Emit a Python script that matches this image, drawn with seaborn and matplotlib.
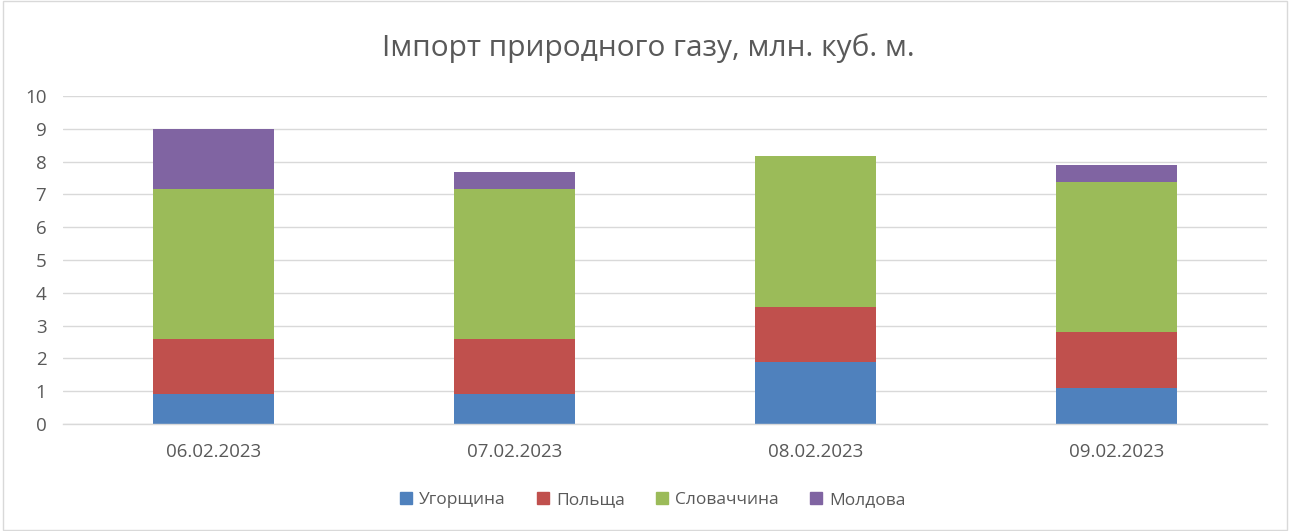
import matplotlib
matplotlib.use("Agg")
import matplotlib.pyplot as plt
import matplotlib.patches as mpatches
import seaborn as sns
import pandas as pd
import numpy as np

dates = ["06.02.2023", "07.02.2023", "08.02.2023", "09.02.2023"]
series_names = ["Угорщина", "Польща", "Словаччина", "Молдова"]
hungary = [0.92, 0.91, 1.89, 1.09]
poland = [1.66, 1.67, 1.67, 1.71]
slovakia = [4.58, 4.58, 4.61, 4.59]
moldova = [1.82, 0.51, 0.0, 0.50]
colors = ["#4F81BD", "#C0504D", "#9BBB59", "#8064A2"]
title = "Імпорт природного газу, млн. куб. м."
yticks = list(range(0, 11))

sns.set_theme(style="white")
plt.rcParams['font.family'] = ['Open Sans', 'DejaVu Sans']

fig = plt.figure(figsize=(12.9, 5.31), dpi=100)
ax = fig.add_axes([63/1290, 1-424/531, (1267-63)/1290, (424-96)/531])

vals = [hungary, poland, slovakia, moldova]
cum = np.cumsum(np.array(vals), axis=0)
# draw from top layer down so lower segments cover upper ones
for i in range(len(series_names) - 1, -1, -1):
    df = pd.DataFrame({"date": dates, "value": cum[i]})
    sns.barplot(data=df, x="date", y="value", color=colors[i], width=0.4,
                saturation=1, ax=ax, zorder=2, edgecolor="none", linewidth=0)

ax.set_ylim(0, 10)
ax.set_xlim(-0.5, 3.5)
ax.set_yticks(yticks)
ax.set_yticklabels([str(t) for t in yticks])
ax.set_xlabel("")
ax.set_ylabel("")
ax.yaxis.grid(True, color="#D9D9D9", linewidth=1, zorder=0)
ax.xaxis.grid(False)
ax.set_axisbelow(True)
for s in ["top", "right", "left"]:
    ax.spines[s].set_visible(False)
ax.spines["bottom"].set_color("#D9D9D9")
ax.spines["bottom"].set_linewidth(1)
ax.tick_params(axis="y", length=0, labelsize=13.5, labelcolor="#595959", pad=12)
ax.tick_params(axis="x", length=0, labelsize=13.5, labelcolor="#595959", pad=14)
# category separator ticks
ax.set_xticks([-0.5, 0.5, 1.5, 2.5, 3.5], minor=True)
ax.tick_params(axis="x", which="minor", length=6, color="#D9D9D9", width=1, direction="out")
for lbl in ax.get_yticklabels():
    lbl.set_horizontalalignment("right")

fig.suptitle(title, x=648/1290, y=1-48/531, va="center", fontsize=21.5, color="#595959")

handles = [mpatches.Patch(color=c, label=n) for c, n in zip(colors, series_names)]
leg = fig.legend(handles=handles, loc="center", bbox_to_anchor=(653/1290, 1-500/531), ncol=4,
                 frameon=False, fontsize=12.5, handlelength=0.7, handleheight=0.7,
                 handletextpad=0.4, columnspacing=1.8)
for t in leg.get_texts():
    t.set_color("#595959")

fig.patches.append(mpatches.Rectangle((0.002, 0.002), 0.996, 0.996, transform=fig.transFigure,
                                      fill=False, edgecolor="#D9D9D9", linewidth=1))

fig.savefig("out.png", dpi=100)
